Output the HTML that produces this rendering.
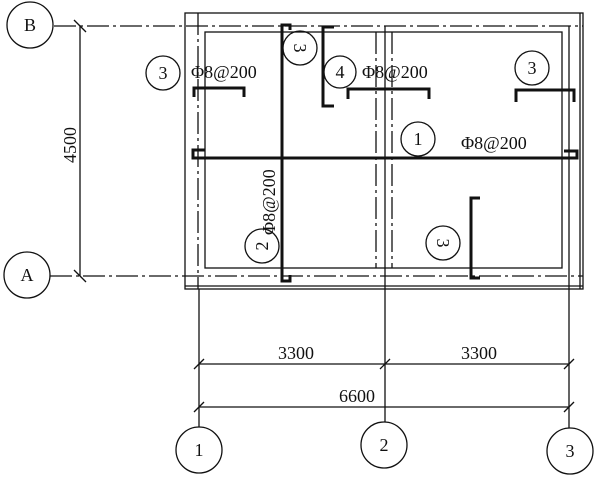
<html><body style="margin:0;background:#fff">
<svg width="600" height="478" xmlns="http://www.w3.org/2000/svg" style="font-family:'Liberation Serif',serif">
<g fill="none" stroke="#111" stroke-width="1.3">
<rect x="185" y="13" width="398" height="276"/>
<rect x="205" y="32" width="357" height="236"/>
<line x1="580" y1="13" x2="580" y2="289"/>
<line x1="185" y1="286" x2="583" y2="286"/>
<g stroke-dasharray="22,4,3,4">
<line x1="54" y1="26" x2="583" y2="26"/>
<line x1="50" y1="276" x2="583" y2="276"/>
<line x1="376" y1="32" x2="376" y2="268"/>
<line x1="392" y1="32" x2="392" y2="268"/>
<line x1="198" y1="13" x2="198" y2="289"/>
</g>
<line x1="199" y1="289" x2="199" y2="427"/>
<line x1="385" y1="26" x2="385" y2="422"/>
<line x1="569" y1="26" x2="569" y2="428"/>
<line x1="80" y1="26" x2="80" y2="276"/>
<line x1="74" y1="20" x2="86" y2="32"/><line x1="74" y1="270" x2="86" y2="282"/>
<line x1="199" y1="364" x2="569" y2="364"/>
<line x1="199" y1="407" x2="569" y2="407"/>
<line x1="194" y1="369" x2="204" y2="359"/><line x1="380" y1="369" x2="390" y2="359"/><line x1="564" y1="369" x2="574" y2="359"/>
<line x1="194" y1="412" x2="204" y2="402"/><line x1="564" y1="412" x2="574" y2="402"/>
<circle cx="30" cy="25" r="23"/><circle cx="27" cy="275" r="23"/>
<circle cx="199" cy="450" r="23"/><circle cx="384" cy="445" r="23"/><circle cx="570" cy="451" r="23"/>
<circle cx="163" cy="73" r="17"/><circle cx="300" cy="48" r="17"/><circle cx="340" cy="72" r="16"/>
<circle cx="532" cy="68" r="17"/><circle cx="418" cy="139" r="17"/><circle cx="443" cy="243" r="17"/><circle cx="262" cy="246" r="17"/>
</g>
<g fill="none" stroke="#111" stroke-width="3">
<path d="M205,150 H193 V158 H577 V151 H564"/>
<path d="M290,30 V25 H282 V281 H290 V275"/>
<path d="M194,97 V88 H244 V97"/>
<path d="M334,27 H323 V106 H334"/>
<path d="M348,99 V89 H429 V99"/>
<path d="M516,102 V90 H574 V102"/>
<path d="M480,198 H471 V278 H480"/>
</g>
<g font-size="18" fill="#111" text-anchor="middle">
<text x="30" y="31">B</text><text x="27" y="281">A</text>
<text x="199" y="456">1</text><text x="384" y="451">2</text><text x="570" y="457">3</text>
<text x="163" y="79">3</text><text x="340" y="78">4</text><text x="532" y="74">3</text><text x="418" y="145">1</text>
<text transform="translate(300,48) rotate(90)" y="6">3</text>
<text transform="translate(443,243) rotate(90)" y="6">3</text>
<text transform="translate(262,246) rotate(-90)" y="6">2</text>
<text x="296" y="359">3300</text><text x="479" y="359">3300</text><text x="357" y="402">6600</text>
<text transform="translate(70,145) rotate(-90)" y="6">4500</text>
</g>
<g font-size="18" fill="#111">
<text x="191" y="78">Φ8@200</text>
<text x="362" y="78">Φ8@200</text>
<text x="461" y="149">Φ8@200</text>
<text transform="translate(275,235) rotate(-90)">Φ8@200</text>
</g>
</svg>
</body></html>
